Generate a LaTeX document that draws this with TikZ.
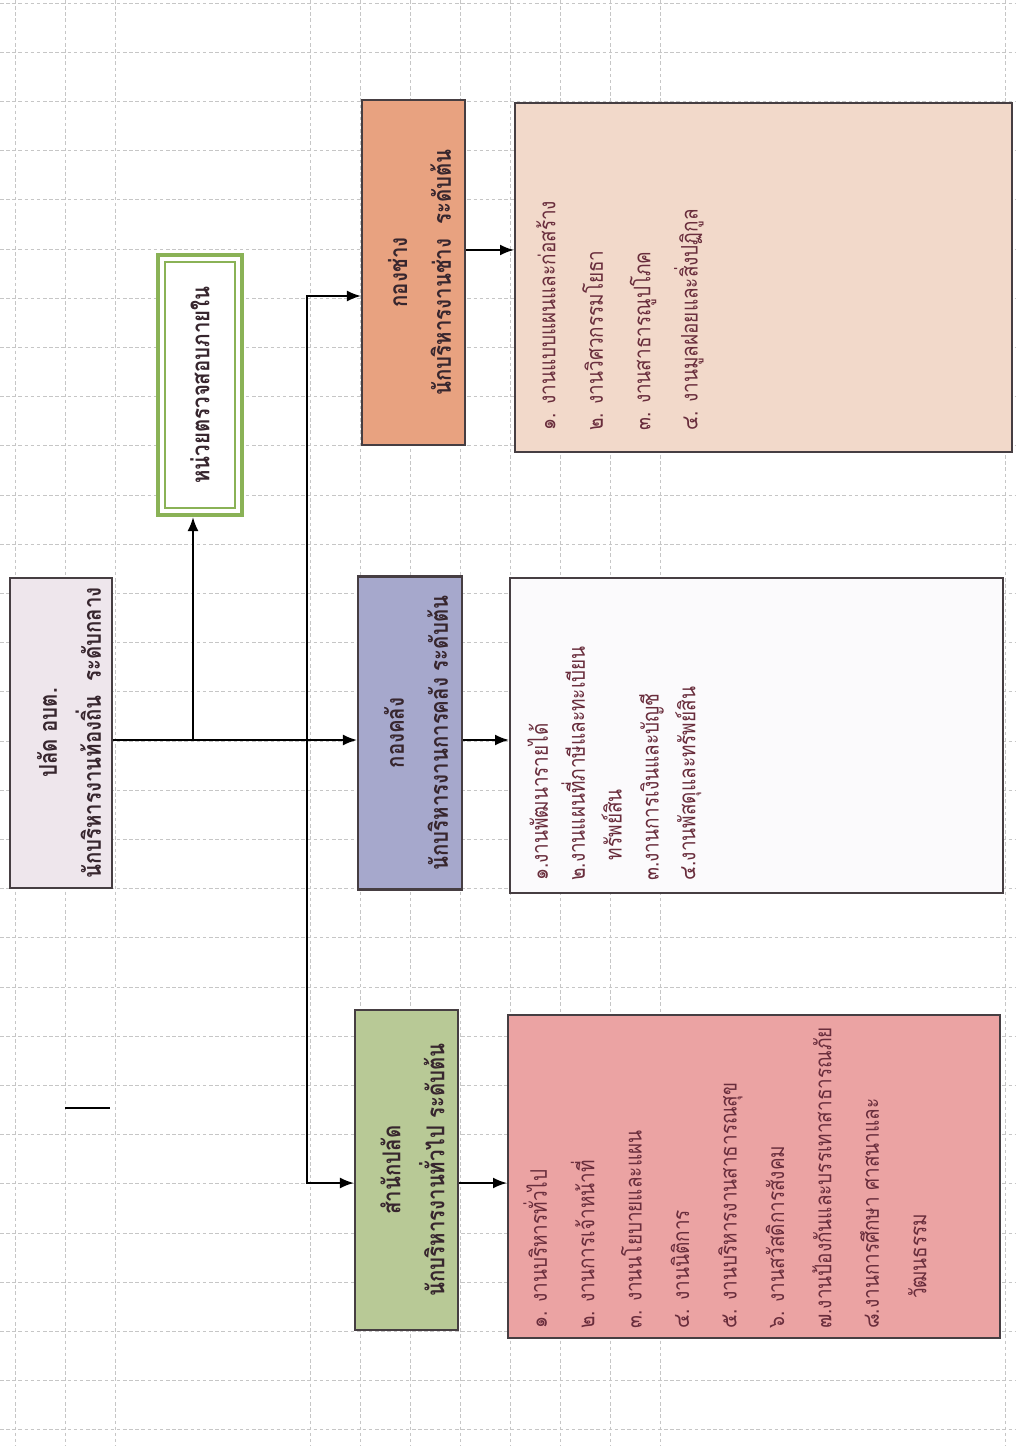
\documentclass[tikz,border=0pt]{standalone}
\usepackage{fontspec}
\newfontfamily\thaifont[Script=Thai, FakeStretch=0.83]{Loma}
\usetikzlibrary{arrows.meta}

\definecolor{boxline}{RGB}{70,62,66}
\definecolor{headtxt}{RGB}{55,38,46}
\definecolor{listtxt}{RGB}{105,45,60}
\definecolor{topfill}{RGB}{238,230,236}
\definecolor{auditgreen}{RGB}{138,178,86}
\definecolor{changfill}{RGB}{232,162,128}
\definecolor{klangfill}{RGB}{166,168,204}
\definecolor{palatfill}{RGB}{184,201,150}
\definecolor{changlist}{RGB}{242,217,202}
\definecolor{klanglist}{RGB}{251,250,252}
\definecolor{palatlist}{RGB}{235,163,163}

\begin{document}
\begin{tikzpicture}[x=0.02cm, y=-0.02cm,
  box/.style={draw=boxline, line width=1.2pt, inner sep=0pt},
  headtext/.style={rotate=90, align=center, inner sep=0pt, text=headtxt,
    font=\thaifont\bfseries\fontsize{14}{25}\selectfont},
  listtext/.style={rotate=90, align=left, inner sep=0pt, anchor=north west,
    text=listtxt, font=\thaifont\fontsize{13}{27}\selectfont},
  gridline/.style={gray!45, line width=0.4pt, dash pattern=on 2pt off 1.5pt},
  conn/.style={black, line width=1.1pt},
  arr/.style={conn, -{Latex[length=2.8mm, width=2.2mm]}},
  arrboth/.style={conn, {Latex[length=2.8mm, width=2.2mm]}-{Latex[length=2.8mm, width=2.2mm]}}]

\path[fill=white, use as bounding box] (0,0) rectangle (1016,1446);

% sheet grid
\foreach \gx in {15,65,115,310,360,410,460,510,560,610,660,1005}
  \draw[gridline] (\gx,0) -- (\gx,1446);
\foreach \k in {0,...,29}
  \draw[gridline] (0,3+49.2*\k) -- (1016,3+49.2*\k);

% --- top: ปลัด อบต. ---
\node[box, fill=topfill, minimum width=2.04cm, minimum height=6.2cm] (top) at (61,733) {};
\node[headtext] at ([shift={(8,0)}]top.center) {ปลัด อบต.\\นักบริหารงานท้องถิ่น~~ระดับกลาง};

% --- internal audit ---
\node[draw=auditgreen, line width=2.4pt, fill=white, inner sep=0pt,
      minimum width=1.68cm, minimum height=5.2cm] (audit) at (200,385) {};
\draw[auditgreen, line width=0.9pt] ([shift={(9,-9)}]audit.south west)
    rectangle ([shift={(-9,9)}]audit.north east);
\node[headtext] at (audit) {หน่วยตรวจสอบภายใน};

% --- division heads ---
\node[box, fill=changfill, minimum width=2.06cm, minimum height=6.9cm] (hdr3) at (413.5,272.5) {};
\node[headtext] at ([shift={(6,0)}]hdr3.center) {กองช่าง\\นักบริหารงานช่าง~~ระดับต้น};

\node[box, fill=klangfill, minimum width=2.08cm, minimum height=6.26cm] (hdr2) at (410,733) {};
\node[headtext] at ([shift={(6,0)}]hdr2.center) {กองคลัง\\นักบริหารงานการคลัง ระดับต้น};

\node[box, fill=palatfill, minimum width=2.06cm, minimum height=6.4cm] (hdr1) at (406.5,1170) {};
\node[headtext] at ([shift={(6,0)}]hdr1.center) {สำนักปลัด\\นักบริหารงานทั่วไป ระดับต้น};

% --- task lists ---
\node[box, fill=changlist, minimum width=9.94cm, minimum height=6.98cm] (list3) at (763.5,277.5) {};
\node[listtext] at ([shift={(22,-22)}]list3.south west)
  {๑. งานแบบแผนและก่อสร้าง\\๒. งานวิศวกรรมโยธา\\๓. งานสาธารณูปโภค\\๔. งานมูลฝอยและสิ่งปฏิกูล};

\node[box, fill=klanglist, minimum width=9.86cm, minimum height=6.3cm] (list2) at (756.5,735.5) {};
\node[listtext, font=\thaifont\fontsize{13}{21}\selectfont] at ([shift={(18,-13)}]list2.south west)
  {๑.งานพัฒนารายได้\\๒.งานแผนที่ภาษีและทะเบียน\\\hspace*{0.9em}ทรัพย์สิน\\๓.งานการเงินและบัญชี\\๔.งานพัสดุและทรัพย์สิน};

\node[box, fill=palatlist, minimum width=9.84cm, minimum height=6.46cm] (list1) at (754,1176.5) {};
\node[listtext] at ([shift={(16,-10)}]list1.south west)
  {๑. งานบริหารทั่วไป\\๒. งานการเจ้าหน้าที่\\๓. งานนโยบายและแผน\\๔. งานนิติการ\\๕. งานบริหารงานสาธารณสุข\\๖. งานสวัสดิการสังคม\\๗.งานป้องกันและบรรเทาสาธารณภัย\\๘.งานการศึกษา ศาสนาและ\\\hspace*{1.3em}วัฒนธรรม};

% --- connectors ---
\coordinate (rowB) at (0,740);
\coordinate (jA) at (193,740);
\coordinate (spT) at (307,296);
\coordinate (spB) at (307,1183);
\draw[arr] (top.east |- rowB) -- (hdr2.west |- rowB);
\draw[arr] (jA) -- (jA |- audit.south);
\draw[arrboth] (spT -| hdr3.west) -- (spT) -- (spB) -- (spB -| hdr1.west);

\coordinate (r3) at (0,250);
\coordinate (r2) at (0,740);
\coordinate (r1) at (0,1183);
\draw[arr] (hdr3.east |- r3) -- (list3.west |- r3);
\draw[arr] (hdr2.east |- r2) -- (list2.west |- r2);
\draw[arr] (hdr1.east |- r1) -- (list1.west |- r1);

% stray mark
\coordinate (stubL) at (65,1108);
\coordinate (stubR) at (110,1108);
\draw[conn] (stubL) -- (stubR);
\end{tikzpicture}
\end{document}
